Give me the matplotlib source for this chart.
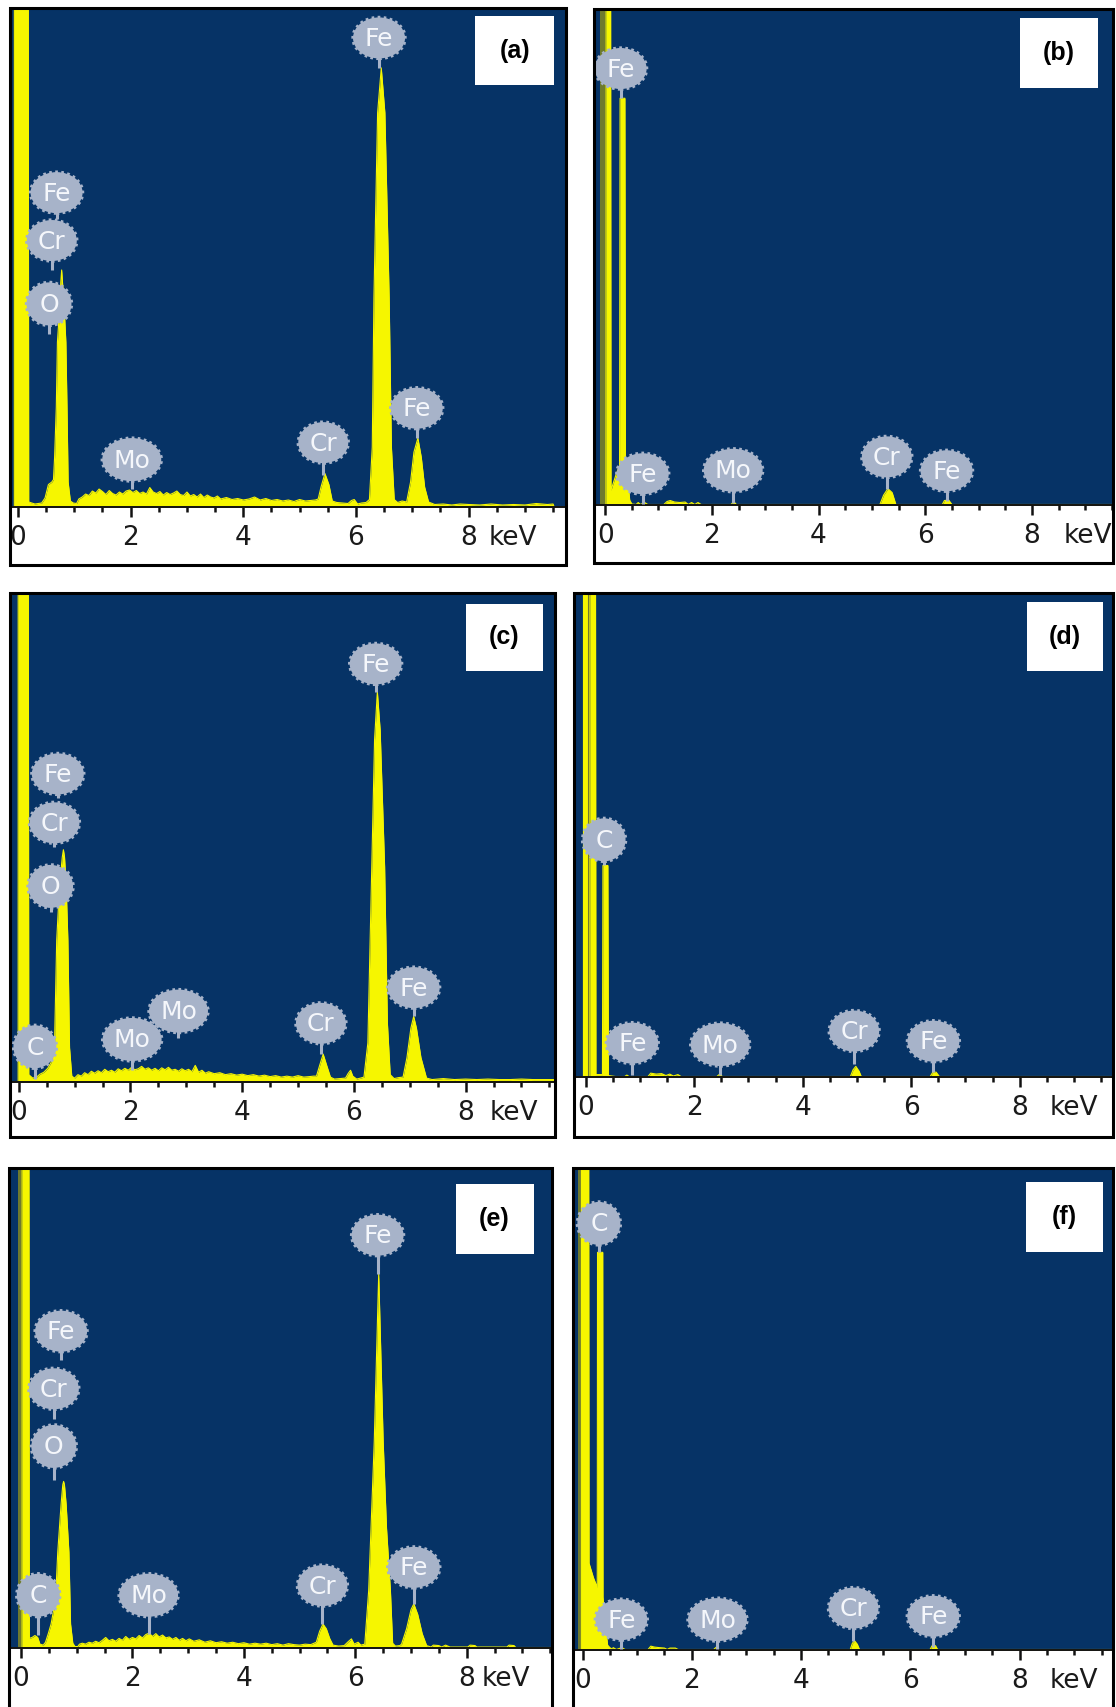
import numpy as np
import matplotlib
matplotlib.use("Agg")
import matplotlib.pyplot as plt
from matplotlib.patches import Rectangle, Ellipse
from matplotlib.transforms import ScaledTranslation

W, H, DPI = 1116, 1707, 100

BLUE = "#063366"
YELLOW = "#f6f600"
OLIVE = "#6e7a2e"
BADGE = "#a7b3c9"
BADGE_TEXT = "#f5f7fb"

TICK_KEV = [0, 2, 4, 6, 8]
TICK_LABELS = ["0", "2", "4", "6", "8"]

# spectra: (energy keV, counts in % of panel height)
A_SPEC = [
    (-0.15, 0), (-0.065, 0), (-0.064, 140), (0.18, 140), (0.19, 1.0), (0.30, 0.6), (0.42, 0.8),
    (0.48, 1.8), (0.54, 4.5), (0.60, 5.0), (0.63, 5.5), (0.65, 10), (0.68, 20), (0.70, 33),
    (0.74, 40), (0.76, 45), (0.775, 47.5), (0.79, 45), (0.82, 40), (0.85, 33), (0.87, 20),
    (0.89, 5), (0.93, 1.2), (0.98, 0.8), (1.04, 0.7), (1.08, 1.6), (1.14, 2.0), (1.20, 2.6),
    (1.26, 2.3), (1.32, 3.2), (1.38, 2.8), (1.44, 3.6), (1.50, 3.1), (1.56, 2.5), (1.62, 3.3),
    (1.68, 2.7), (1.74, 2.4), (1.80, 3.0), (1.86, 2.6), (1.92, 3.2), (1.98, 3.4), (2.04, 2.9),
    (2.10, 3.3), (2.16, 2.7), (2.22, 3.0), (2.28, 2.6), (2.34, 3.9), (2.40, 3.0), (2.46, 2.7),
    (2.52, 3.1), (2.58, 2.4), (2.64, 2.9), (2.70, 2.5), (2.76, 2.8), (2.82, 3.2), (2.88, 2.5),
    (2.94, 2.3), (3.00, 3.0), (3.06, 2.2), (3.12, 2.5), (3.18, 2.0), (3.24, 2.6), (3.30, 1.9),
    (3.36, 2.4), (3.42, 2.0), (3.48, 1.8), (3.54, 2.2), (3.60, 1.6), (3.70, 1.9), (3.80, 1.5),
    (3.90, 1.7), (4.00, 1.4), (4.10, 1.6), (4.20, 2.0), (4.30, 1.4), (4.40, 1.7), (4.50, 1.3),
    (4.60, 1.5), (4.70, 1.2), (4.80, 1.4), (4.90, 1.1), (5.00, 1.5), (5.10, 1.2), (5.20, 1.3),
    (5.28, 1.4), (5.33, 1.6), (5.38, 4.0), (5.45, 6.7), (5.52, 4.5), (5.58, 1.2), (5.66, 0.9),
    (5.76, 0.8), (5.86, 0.7), (5.92, 1.3), (5.97, 1.5), (6.03, 0.6), (6.10, 0.8), (6.18, 0.9),
    (6.24, 1.5), (6.29, 12), (6.32, 42), (6.385, 79), (6.45, 88), (6.514, 79), (6.59, 42),
    (6.63, 12), (6.68, 1.5), (6.74, 0.9), (6.82, 1.2), (6.90, 1.0), (6.97, 5), (7.03, 11),
    (7.10, 13.8), (7.16, 10), (7.22, 4), (7.29, 1.0), (7.40, 0.5), (7.55, 0.6), (7.70, 0.4),
    (7.85, 0.6), (8.00, 0.5), (8.20, 0.4), (8.40, 0.6), (8.60, 0.4), (8.80, 0.5), (9.00, 0.4),
    (9.20, 0.7), (9.40, 0.5), (9.50, 0.6), (9.52, 0), (9.73, 0),
]

B_SPEC = [
    (-0.21, 0), (0.015, 0), (0.02, 140), (0.10, 140), (0.11, 3), (0.20, 6), (0.27, 8),
    (0.28, 82), (0.37, 82), (0.38, 10), (0.42, 6), (0.46, 1), (0.50, 0.2), (0.58, 0.1),
    (0.62, 0.5), (0.66, 0.1), (0.74, 0.5), (0.80, 0.1), (1.10, 0.1), (1.16, 0.7), (1.22, 0.9),
    (1.30, 0.6), (1.40, 0.5), (1.50, 0.6), (1.56, 0.1), (1.62, 0.5), (1.68, 0.1), (1.74, 0.5),
    (1.80, 0.1), (2.36, 0.1), (2.41, 0.7), (2.46, 0.1), (5.15, 0.1), (5.22, 2.0), (5.30, 3.3),
    (5.38, 2.5), (5.45, 0.1), (6.32, 0.1), (6.36, 0.9), (6.44, 1.0), (6.50, 0.1), (9.52, 0.1),
]

C_SPEC = [
    (-0.16, 0), (-0.01, 0), (-0.009, 140), (0.17, 140), (0.18, 1.5), (0.25, 0.8), (0.32, 1.0),
    (0.38, 1.6), (0.45, 2.0), (0.52, 2.8), (0.58, 4), (0.64, 7), (0.68, 29), (0.73, 40),
    (0.78, 46), (0.80, 47.5), (0.82, 46), (0.85, 40), (0.88, 29), (0.91, 7), (0.95, 1.2),
    (1.00, 0.8), (1.06, 1.5), (1.12, 1.2), (1.18, 1.9), (1.24, 1.5), (1.30, 2.2), (1.36, 1.8),
    (1.42, 2.3), (1.48, 1.9), (1.54, 2.6), (1.60, 2.1), (1.66, 2.4), (1.72, 2.0), (1.78, 2.7),
    (1.84, 2.3), (1.90, 2.8), (1.96, 2.4), (2.02, 3.0), (2.08, 2.5), (2.14, 2.7), (2.20, 3.2),
    (2.26, 2.6), (2.32, 2.9), (2.38, 2.4), (2.44, 2.8), (2.50, 2.3), (2.56, 2.9), (2.62, 2.5),
    (2.68, 3.0), (2.74, 2.4), (2.80, 2.6), (2.86, 2.2), (2.92, 2.7), (2.98, 2.3), (3.04, 2.6),
    (3.10, 2.1), (3.16, 3.4), (3.22, 2.0), (3.28, 2.4), (3.34, 1.8), (3.40, 2.1), (3.50, 1.7),
    (3.60, 1.9), (3.70, 1.5), (3.80, 1.7), (3.90, 1.4), (4.00, 1.6), (4.10, 1.3), (4.20, 1.5),
    (4.30, 1.2), (4.40, 1.4), (4.50, 1.1), (4.60, 1.3), (4.70, 1.0), (4.80, 1.2), (4.90, 1.0),
    (5.00, 1.3), (5.10, 1.0), (5.20, 1.1), (5.28, 1.2), (5.33, 1.2), (5.39, 3.5), (5.45, 5.7),
    (5.51, 3.5), (5.58, 1.0), (5.65, 0.6), (5.75, 0.7), (5.85, 0.8), (5.90, 1.8), (5.94, 2.4),
    (5.98, 1.2), (6.05, 0.6), (6.12, 0.8), (6.18, 1.0), (6.25, 8), (6.32, 44), (6.37, 70),
    (6.42, 79.8), (6.47, 72), (6.55, 44), (6.60, 12), (6.65, 1.5), (6.72, 0.7), (6.80, 0.9),
    (6.88, 1.0), (6.95, 5), (7.02, 11), (7.07, 13.4), (7.12, 11), (7.20, 5), (7.30, 0.8),
    (7.40, 0.5), (7.60, 0.7), (7.80, 0.5), (8.00, 0.6), (8.20, 0.5), (8.40, 0.6), (8.60, 0.5),
    (8.80, 0.5), (9.00, 0.6), (9.20, 0.5), (9.40, 0.5), (9.60, 0.5),
]

D_SPEC = [
    (-0.214, 0), (-0.04, 0), (-0.039, 140), (0.03, 140), (0.031, 0), (0.079, 0), (0.08, 140),
    (0.18, 140), (0.19, 0.5), (0.31, 0.5), (0.32, 43.7), (0.41, 43.7), (0.42, 0.3), (0.55, 0.1),
    (0.72, 0.1), (0.76, 0.4), (0.80, 0.1), (1.15, 0.1), (1.20, 0.8), (1.30, 0.6), (1.40, 0.7),
    (1.48, 0.3), (1.55, 0.6), (1.62, 0.2), (1.70, 0.5), (1.76, 0.1), (2.42, 0.1), (2.47, 0.6),
    (2.52, 0.1), (4.88, 0.1), (4.93, 1.5), (4.98, 2.2), (5.04, 1.2), (5.08, 0.1), (6.35, 0.1),
    (6.40, 1.0), (6.46, 1.0), (6.52, 0.1), (9.72, 0.1),
]

E_SPEC = [
    (-0.215, 0), (0.02, 0), (0.021, 140), (0.14, 140), (0.15, 2.0), (0.20, 2.2), (0.25, 2.6),
    (0.30, 2.2), (0.34, 0.8), (0.40, 0.6), (0.44, 1.2), (0.49, 3), (0.54, 5), (0.62, 10),
    (0.66, 20), (0.72, 30), (0.75, 34), (0.765, 34.7), (0.78, 34), (0.81, 30), (0.86, 20),
    (0.89, 5), (0.93, 1), (0.97, 0.3), (1.02, 0.3), (1.05, 0.8), (1.10, 1.0), (1.16, 0.8),
    (1.22, 1.2), (1.28, 1.0), (1.34, 1.4), (1.40, 1.1), (1.46, 1.6), (1.52, 2.2), (1.58, 1.5),
    (1.64, 1.8), (1.70, 1.4), (1.76, 2.0), (1.82, 1.6), (1.88, 2.4), (1.94, 1.8), (2.00, 2.2),
    (2.06, 1.9), (2.12, 2.6), (2.18, 2.1), (2.24, 2.8), (2.30, 3.1), (2.36, 2.4), (2.42, 3.0),
    (2.48, 2.3), (2.54, 2.7), (2.60, 2.1), (2.66, 2.3), (2.72, 1.8), (2.78, 2.2), (2.84, 1.6),
    (2.90, 2.0), (2.96, 1.5), (3.02, 1.9), (3.10, 1.4), (3.20, 1.7), (3.30, 1.2), (3.40, 1.5),
    (3.50, 1.1), (3.60, 1.3), (3.70, 1.0), (3.80, 1.2), (3.90, 0.9), (4.00, 1.1), (4.10, 0.8),
    (4.20, 1.0), (4.30, 0.8), (4.40, 1.0), (4.50, 0.7), (4.60, 0.9), (4.70, 0.6), (4.80, 0.9),
    (4.90, 0.7), (5.00, 0.6), (5.10, 0.8), (5.20, 0.7), (5.30, 1.2), (5.36, 3.5), (5.42, 5.0),
    (5.48, 4.0), (5.54, 2.0), (5.60, 0.6), (5.70, 0.4), (5.80, 0.5), (5.88, 1.4), (5.93, 1.9),
    (5.98, 0.8), (6.05, 1.2), (6.10, 0.6), (6.17, 0.8), (6.24, 12), (6.34, 43), (6.42, 78),
    (6.50, 43), (6.56, 25), (6.63, 12), (6.67, 1), (6.72, 0.4), (6.80, 0.5), (6.83, 0.8),
    (6.92, 4), (7.00, 8), (7.05, 9.2), (7.12, 7), (7.20, 3), (7.28, 0.5), (7.36, 0.2),
    (7.40, 0.6), (7.50, 0.5), (7.55, 0.2), (7.62, 0.6), (7.70, 0.2), (8.02, 0.2), (8.06, 0.6),
    (8.15, 0.5), (8.18, 0.2), (8.72, 0.2), (8.76, 0.6), (8.85, 0.5), (8.88, 0.1), (9.53, 0.1),
]

F_SPEC = [
    (-0.174, 0), (-0.02, 0), (-0.019, 140), (0.11, 140), (0.12, 18), (0.20, 15), (0.27, 13),
    (0.275, 82.5), (0.37, 82.5), (0.375, 11), (0.42, 5), (0.46, 1), (0.50, 0.5), (0.55, 0.1),
    (0.56, 0.5), (0.62, 0.1), (0.72, 0.5), (0.78, 0.1), (1.20, 0.1), (1.25, 0.8), (1.32, 0.6),
    (1.40, 0.5), (1.50, 0.4), (1.55, 0.1), (1.60, 0.4), (1.70, 0.4), (1.75, 0.1), (2.40, 0.1),
    (2.45, 0.6), (2.50, 0.1), (4.90, 0.1), (4.94, 1.4), (4.98, 1.9), (5.03, 1.2), (5.07, 0.1),
    (6.36, 0.1), (6.40, 0.9), (6.46, 0.9), (6.50, 0.1), (9.71, 0.1),
]

# faint olive bands beside the first spike (keV ranges)
B_SHADE = [(-0.09, 0.02)]
D_SHADE = [(0.03, 0.08)]
E_SHADE = [(-0.05, 0.02)]
F_SHADE = [(-0.08, -0.02)]

# element badges: (label, energy keV, stem tip %, badge centre %)
A_TAGS = [("Fe", 6.41, 88, 94), ("Fe", 0.685, 57.8, 63), ("Cr", 0.60, 47.4, 53.4),
          ("O", 0.55, 34.7, 40.7), ("Mo", 2.02, 3.7, 9.5), ("Cr", 5.42, 6.5, 12.9),
          ("Fe", 7.08, 13.8, 19.8)]
B_TAGS = [("Fe", 0.29, 82, 88), ("Fe", 0.705, 0.3, 6.3), ("Mo", 2.40, 0.4, 7.0),
          ("Cr", 5.28, 3.3, 9.7), ("Fe", 6.40, 0.9, 6.9)]
C_TAGS = [("Fe", 0.70, 58, 63), ("Cr", 0.64, 48, 53), ("O", 0.57, 34.7, 40),
          ("C", 0.29, 0.7, 7.2), ("Mo", 2.03, 2.4, 8.7), ("Mo", 2.86, 9, 14.5),
          ("Cr", 5.41, 5.7, 12), ("Fe", 6.39, 79.8, 85.5), ("Fe", 7.07, 13.4, 19.3)]
D_TAGS = [("C", 0.34, 43.7, 49), ("Fe", 0.86, 0.4, 7), ("Mo", 2.48, 0.4, 6.7),
          ("Cr", 4.95, 2.6, 9.5), ("Fe", 6.41, 1.0, 7.4)]
E_TAGS = [("Fe", 0.72, 60, 66), ("Cr", 0.59, 47.7, 54), ("O", 0.59, 35, 42),
          ("C", 0.31, 2.7, 11), ("Mo", 2.29, 3, 11), ("Cr", 5.41, 5, 13),
          ("Fe", 6.40, 78, 86), ("Fe", 7.05, 9.2, 16.8)]
F_TAGS = [("C", 0.30, 82.5, 88.5), ("Fe", 0.71, 0.3, 6.3), ("Mo", 2.47, 0.3, 6.3),
          ("Cr", 4.96, 1.9, 8.7), ("Fe", 6.42, 0.7, 7.0)]

# layout in pixels: left, right, top, baseline, bottom
PANELS = [
    dict(name="(a)", spec=A_SPEC, tags=A_TAGS, shade=[], px=(10, 566, 8, 507, 565),
         xlim=(-0.142, 9.73), box=(8.12, 9.52, 84.5, 98.3), kev=8.36),
    dict(name="(b)", spec=B_SPEC, tags=B_TAGS, shade=B_SHADE, px=(594, 1113, 9, 505, 563),
         xlim=(-0.209, 9.52), box=(7.77, 9.24, 84.1, 98.2), kev=8.59),
    dict(name="(c)", spec=C_SPEC, tags=C_TAGS, shade=[], px=(10, 555, 593, 1082, 1137),
         xlim=(-0.156, 9.60), box=(8.0, 9.38, 84.0, 97.8), kev=8.43),
    dict(name="(d)", spec=D_SPEC, tags=D_TAGS, shade=D_SHADE, px=(574, 1113, 593, 1077, 1137),
         xlim=(-0.214, 9.72), box=(8.13, 9.54, 83.9, 98.1), kev=8.55),
    dict(name="(e)", spec=E_SPEC, tags=E_TAGS, shade=E_SHADE, px=(9, 552, 1168, 1648, 1712),
         xlim=(-0.215, 9.53), box=(7.80, 9.20, 82.1, 96.6), kev=8.26),
    dict(name="(f)", spec=F_SPEC, tags=F_TAGS, shade=F_SHADE, px=(573, 1113, 1168, 1650, 1712),
         xlim=(-0.174, 9.71), box=(8.12, 9.53, 82.5, 97.0), kev=8.55),
]

BADGE_SIZE = {"Fe": (0.52, 0.41), "Cr": (0.50, 0.41), "Mo": (0.59, 0.43),
              "O": (0.45, 0.43), "C": (0.43, 0.43)}

MAJOR_LEN, TICK_PAD = 7.2, 6


def draw_panel(fig, p):
    left, right, top, base, bottom = p["px"]
    ax = fig.add_axes([left / W, 1 - base / H, (right - left) / W, (base - top) / H])
    ax.set_facecolor(BLUE)

    kev, cnt = zip(*p["spec"])
    for lo, hi in p["shade"]:
        ax.axvspan(lo, hi, color=OLIVE, lw=0, zorder=1)
    ax.fill_between(kev, 0, cnt, color=YELLOW, lw=0, zorder=2)
    ax.plot(kev, cnt, color=YELLOW, lw=0.8, zorder=2)

    ax.set_xlim(*p["xlim"])
    ax.set_ylim(0, 100)
    ax.set_yticks([])
    ax.set_xticks(TICK_KEV)
    ax.set_xticklabels(TICK_LABELS)
    ax.set_xticks(np.arange(0.5, 9.6, 0.5), minor=True)
    ax.tick_params(axis="x", which="major", direction="out", length=MAJOR_LEN, width=1.8,
                   pad=TICK_PAD, labelsize=19, color="#111111", labelcolor="#1a1a1a")
    ax.tick_params(axis="x", which="minor", direction="out", length=3.6, width=1.8,
                   color="#111111")
    for side in ["top", "left", "right"]:
        ax.spines[side].set_visible(False)
    ax.spines["bottom"].set_linewidth(1.4)
    ax.spines["bottom"].set_color("#111111")

    frame = Rectangle((left / W, 1 - bottom / H), (right - left) / W, (bottom - top) / H,
                      transform=fig.transFigure, fill=False, ec="black", lw=2.2, zorder=10)
    fig.add_artist(frame)
    for t in ax.xaxis.get_major_ticks():
        t.label1.set_clip_on(True)
        t.label1.set_clip_path(frame)

    unit = ax.annotate("keV", xy=(p["kev"], 0), xycoords=("data", "axes fraction"),
                       xytext=(0, -(MAJOR_LEN + TICK_PAD)), textcoords="offset points",
                       ha="left", va="top", fontsize=19, color="#1a1a1a",
                       annotation_clip=False)
    unit.set_clip_on(True)
    unit.set_clip_path(frame)

    # element badges
    for label, x, tip, centre in p["tags"]:
        ax.plot([x, x], [tip, centre], color=BADGE, lw=2.2, solid_capstyle="butt", zorder=4)
        tr = fig.dpi_scale_trans + ScaledTranslation(x, centre, ax.transData)
        bw, bh = BADGE_SIZE[label]
        ax.add_patch(Ellipse((0, 0), bw, bh, transform=tr, fc=BADGE, ec=BADGE, lw=2.4,
                             ls=(0, (0.8, 1.0)), zorder=5))
        ax.text(0, -0.01, label, transform=tr, ha="center", va="center", fontsize=18,
                color=BADGE_TEXT, zorder=6)

    # panel letter box
    x0, x1, y0, y1 = p["box"]
    ax.add_patch(Rectangle((x0, y0), x1 - x0, y1 - y0, fc="white", ec="none", zorder=7))
    ax.text((x0 + x1) / 2, (y0 + y1) / 2, p["name"], ha="center", va="center", fontsize=18,
            fontweight="bold", family="Liberation Sans", color="black", zorder=8)
    return ax


def main():
    fig = plt.figure(figsize=(W / DPI, H / DPI), dpi=DPI)
    fig.patch.set_facecolor("white")
    for p in PANELS:
        draw_panel(fig, p)
    fig.savefig("out.png", dpi=DPI, facecolor="white")
    plt.close(fig)


if __name__ == "__main__":
    main()
